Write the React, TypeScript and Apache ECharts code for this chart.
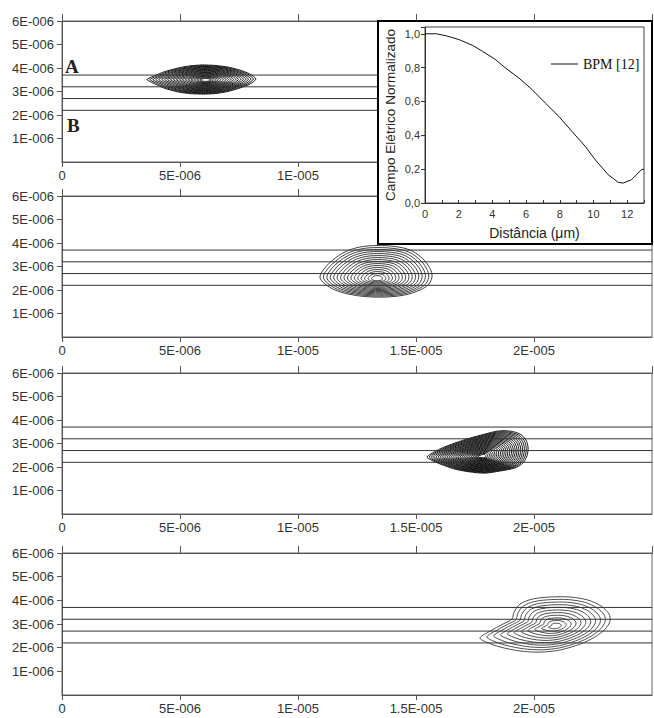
import { useEffect, useRef } from 'react';
import * as echarts from 'echarts';

// ---- axis ticks (metres) ----
const xTickLabels = ['0', '5E-006', '1E-005', '1.5E-005', '2E-005'];
const yTickLabels = ['', '1E-006', '2E-006', '3E-006', '4E-006', '5E-006', '6E-006'];
const X_STEP = 5e-6;
const Y_STEP = 1e-6;
const X_MAX = 2.5e-5;
const Y_MAX = 6e-6;

// horizontal guide levels (waveguide boundaries), metres
const guideLevels = [2.2e-6, 2.7e-6, 3.2e-6, 3.7e-6];

// ---- beam cross-sections, coordinates in micrometres ----
const UM = 1e-6;

// stage 1: lens-shaped spot
const outline1 = [
  [3.6, 3.51], [3.94, 3.68], [4.36, 3.85], [4.92, 4.0], [5.42, 4.09], [5.93, 4.13],
  [6.48, 4.11], [7.03, 4.04], [7.54, 3.91], [7.97, 3.74], [8.22, 3.53], [7.97, 3.32],
  [7.54, 3.15], [7.03, 3.0], [6.48, 2.91], [5.97, 2.89], [5.42, 2.91], [4.92, 2.98],
  [4.36, 3.13], [3.94, 3.32],
];
const peak1 = [6.1, 3.49];
const rings1 = [1, 0.95, 0.9, 0.85, 0.8, 0.75, 0.7, 0.65, 0.6, 0.55, 0.5, 0.45, 0.4, 0.35, 0.3, 0.25, 0.2, 0.15, 0.1];

// stage 2: broad rounded spot
const outline2 = [
  [10.93, 2.55], [11.14, 2.94], [11.48, 3.28], [11.99, 3.62], [12.63, 3.83], [13.35, 3.89],
  [14.11, 3.85], [14.75, 3.7], [15.21, 3.4], [15.51, 3.06], [15.68, 2.64], [15.55, 2.26],
  [15.17, 2.0], [14.53, 1.79], [13.69, 1.7], [12.84, 1.72], [12.12, 1.83], [11.57, 2.0],
  [11.14, 2.26],
];
const peak2 = [13.35, 2.47];
const rings2 = [1, 0.94, 0.88, 0.82, 0.76, 0.7, 0.64, 0.58, 0.52, 0.46, 0.4, 0.34, 0.28, 0.22, 0.16, 0.1];

// stage 3: teardrop spot
const outline3 = [
  [15.47, 2.43], [16.02, 2.77], [16.65, 3.02], [17.29, 3.23], [17.92, 3.4], [18.47, 3.53],
  [18.98, 3.53], [19.41, 3.4], [19.66, 3.15], [19.75, 2.81], [19.7, 2.47], [19.53, 2.17],
  [19.19, 1.96], [18.56, 1.83], [17.92, 1.74], [17.29, 1.79], [16.65, 1.91], [16.02, 2.13],
  [15.64, 2.3],
];
const peak3 = [17.8, 2.45];
const rings3 = [1, 0.96, 0.92, 0.88, 0.84, 0.8, 0.76, 0.72, 0.68, 0.64, 0.6, 0.56, 0.52, 0.48, 0.44, 0.4, 0.36, 0.32, 0.28, 0.24, 0.2, 0.16, 0.12, 0.08];

// stage 4: spot with lower-left tail
const outline4 = [
  [17.71, 2.41], [18.14, 2.7], [18.69, 3.0], [19.07, 3.21], [19.15, 3.5], [19.41, 3.84],
  [19.92, 4.05], [20.68, 4.14], [21.53, 4.14], [22.29, 4.01], [22.84, 3.76], [23.18, 3.42],
  [23.22, 3.12], [23.01, 2.78], [22.58, 2.45], [21.95, 2.15], [21.1, 1.9], [20.25, 1.81],
  [19.41, 1.86], [18.56, 2.03], [17.97, 2.24],
];
const peak4 = [20.93, 2.91];
const rings4 = [1, 0.91, 0.82, 0.73, 0.64, 0.55, 0.46, 0.37, 0.28, 0.19, 0.1];

// ---- inset: normalised field vs distance ----
const insetDistance = [0, 0.67, 1.26, 2.04, 2.83, 3.42, 4.15, 4.79, 5.58, 6.37, 7.15, 7.94, 8.72, 9.51, 10.1, 10.88, 11.47, 11.77, 12.26, 12.85, 13];
const insetField = [1.0, 1.0, 0.988, 0.965, 0.931, 0.896, 0.85, 0.797, 0.738, 0.669, 0.59, 0.512, 0.423, 0.335, 0.256, 0.167, 0.122, 0.118, 0.138, 0.197, 0.2];
const insetXTicks = ['0', '2', '4', '6', '8', '10', '12'];
const insetYTicks = ['0,0', '0,2', '0,4', '0,6', '0,8', '1,0'];
const insetSeriesName = 'BPM [12]';

const SANS = "'Liberation Sans', Arial, sans-serif";
const SERIF = "'Liberation Serif', 'Times New Roman', serif";

const stages = [
  { outline: outline1, peak: peak1, rings: rings1, color: '#000', width: 0.9, smooth: 0.2 },
  { outline: outline2, peak: peak2, rings: rings2, color: '#2a2a2a', width: 0.9, smooth: 0.35 },
  { outline: outline3, peak: peak3, rings: rings3, color: '#000', width: 0.9, smooth: 0.3 },
  { outline: outline4, peak: peak4, rings: rings4, color: '#3a3a3a', width: 0.9, smooth: 0.3 },
];

const panelTops = [21, 196, 373, 553];
const panelHeights = [141, 141, 141, 142];
// the inset box sits over the right part of the first panel's axis
const visibleXLabelCount = [3, 5, 5, 5];

function tickLabel(labels: string[], step: number, count = labels.length) {
  return (v: number) => {
    const i = Math.round(v / step);
    if (Math.abs(v - i * step) > step * 1e-6) return '';
    if (i >= count) return '';
    return labels[i] ?? '';
  };
}

function buildOption() {
  const grid: any[] = [];
  const xAxis: any[] = [];
  const yAxis: any[] = [];
  const series: any[] = [];

  stages.forEach((st, k) => {
    grid.push({
      left: 62,
      right: 2,
      top: panelTops[k],
      height: panelHeights[k],
      show: true,
      borderColor: '#666',
      borderWidth: 1,
      backgroundColor: 'transparent',
    });
    // bottom axis with labels
    xAxis.push({
      type: 'value',
      gridIndex: k,
      min: 0,
      max: X_MAX,
      interval: X_STEP,
      position: 'bottom',
      axisLine: { show: true, lineStyle: { color: '#555', width: 1 } },
      axisTick: { show: true, inside: false, length: 5, lineStyle: { color: '#555' } },
      axisLabel: {
        show: true,
        margin: 7,
        color: '#333',
        fontFamily: SANS,
        fontSize: 13,
        showMaxLabel: false,
        formatter: tickLabel(xTickLabels, X_STEP, visibleXLabelCount[k]),
      },
      splitLine: { show: false },
    });
    // top axis: ticks only
    xAxis.push({
      type: 'value',
      gridIndex: k,
      min: 0,
      max: X_MAX,
      interval: X_STEP,
      position: 'top',
      axisLine: { show: true, lineStyle: { color: '#555', width: 1 } },
      axisTick: { show: true, inside: false, length: 7, lineStyle: { color: '#555' } },
      axisLabel: { show: false },
      splitLine: { show: false },
    });
    yAxis.push({
      type: 'value',
      gridIndex: k,
      min: 0,
      max: Y_MAX,
      interval: Y_STEP,
      axisLine: { show: true, lineStyle: { color: '#555', width: 1 } },
      axisTick: { show: true, inside: false, length: 5, lineStyle: { color: '#555' } },
      axisLabel: {
        show: true,
        margin: 8,
        color: '#333',
        fontFamily: SANS,
        fontSize: 13,
        showMinLabel: false,
        formatter: tickLabel(yTickLabels, Y_STEP),
      },
      splitLine: { show: false },
    });

    guideLevels.forEach((lv) => {
      series.push({
        type: 'line',
        xAxisIndex: k * 2,
        yAxisIndex: k,
        data: [[0, lv], [X_MAX, lv]],
        symbol: 'none',
        silent: true,
        lineStyle: { color: '#333', width: 1 },
      });
    });

    const { outline, peak, color, width, smooth } = st;
    series.push({
      type: 'custom',
      xAxisIndex: k * 2,
      yAxisIndex: k,
      silent: true,
      data: st.rings.map((f) => [f]),
      renderItem: (_params: any, api: any) => {
        const f = api.value(0);
        const pts = outline.map(([x, y]) =>
          api.coord([(peak[0] + f * (x - peak[0])) * UM, (peak[1] + f * (y - peak[1])) * UM])
        );
        return {
          type: 'polygon',
          shape: { points: pts, smooth },
          style: { fill: 'none', stroke: color, lineWidth: width },
        };
      },
    });
  });

  // inset chart
  const ig = stages.length;
  grid.push({
    left: 425,
    width: 219,
    top: 27,
    height: 176,
    show: true,
    borderColor: '#444',
    borderWidth: 1,
    backgroundColor: 'transparent',
    z: 101,
  });
  xAxis.push({
    type: 'value',
    gridIndex: ig,
    min: 0,
    max: 13,
    interval: 2,
    z: 101,
    name: 'Distância (μm)',
    nameLocation: 'middle',
    nameGap: 23,
    nameTextStyle: { color: '#222', fontFamily: SANS, fontSize: 14 },
    axisLine: { show: true, lineStyle: { color: '#333' } },
    axisTick: { show: true, inside: true, length: 3, lineStyle: { color: '#333' } },
    minorTick: { show: true, splitNumber: 2, length: 3, lineStyle: { color: '#333' } },
    axisLabel: {
      margin: 5,
      color: '#333',
      fontFamily: SANS,
      fontSize: 11,
      showMaxLabel: false,
      formatter: tickLabel(insetXTicks, 2),
    },
    splitLine: { show: false },
  });
  yAxis.push({
    type: 'value',
    gridIndex: ig,
    min: 0,
    max: 1.04,
    interval: 0.2,
    z: 101,
    name: 'Campo Elétrico Normalizado',
    nameLocation: 'middle',
    nameGap: 28,
    nameTextStyle: { color: '#222', fontFamily: SANS, fontSize: 13.5 },
    axisLine: { show: true, lineStyle: { color: '#333' } },
    axisTick: { show: true, inside: false, length: 4, lineStyle: { color: '#333' } },
    axisLabel: {
      margin: 5,
      color: '#333',
      fontFamily: SANS,
      fontSize: 11,
      formatter: tickLabel(insetYTicks, 0.2),
    },
    splitLine: { show: false },
  });
  series.push({
    type: 'line',
    name: insetSeriesName,
    xAxisIndex: stages.length * 2,
    yAxisIndex: ig,
    z: 103,
    data: insetDistance.map((d, i) => [d, insetField[i]]),
    symbol: 'none',
    color: '#111',
    lineStyle: { color: '#111', width: 1 },
  });

  return {
    animation: false,
    backgroundColor: '#fff',
    grid,
    xAxis,
    yAxis,
    series,
    legend: {
      data: [insetSeriesName],
      left: 546,
      top: 52,
      z: 110,
      icon: 'rect',
      itemWidth: 27,
      itemHeight: 1,
      textStyle: { color: '#111', fontFamily: SERIF, fontSize: 14 },
      selectedMode: false,
    },
    graphic: [
      {
        type: 'rect',
        z: 100,
        shape: { x: 378, y: 21, width: 274, height: 223 },
        style: { fill: '#fff', stroke: '#000', lineWidth: 2 },
        silent: true,
      },
      {
        type: 'text',
        x: 65,
        y: 57,
        z: 50,
        style: { text: 'A', fill: '#222', font: `bold 19px ${SERIF}` },
        silent: true,
      },
      {
        type: 'text',
        x: 67,
        y: 116,
        z: 50,
        style: { text: 'B', fill: '#222', font: `bold 19px ${SERIF}` },
        silent: true,
      },
    ],
  };
}

export default function App() {
  const ref = useRef<HTMLDivElement>(null);
  useEffect(() => {
    if (!ref.current) return;
    const chart = echarts.init(ref.current, undefined, { renderer: 'svg' });
    chart.setOption(buildOption() as any);
    return () => chart.dispose();
  }, []);
  return (
    <div
      ref={ref}
      style={{ position: 'absolute', left: 0, top: 0, width: 654, height: 718, background: '#fff' }}
    />
  );
}
